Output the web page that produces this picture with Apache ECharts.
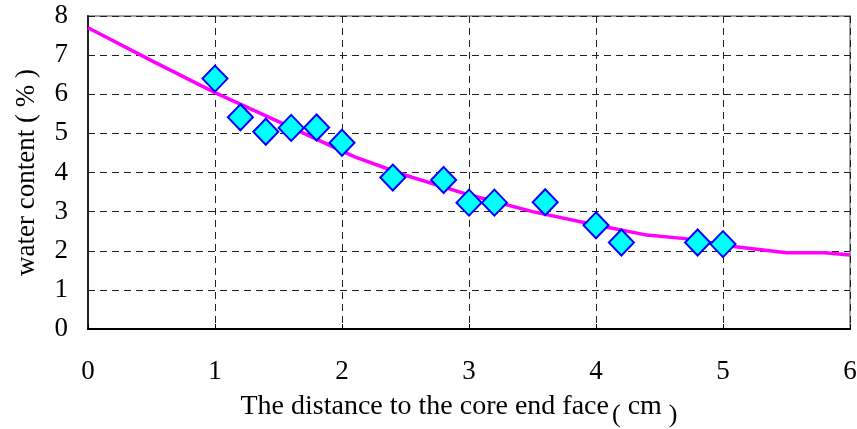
<!DOCTYPE html>
<html>
<head>
<meta charset="utf-8">
<script src="https://cdn.jsdelivr.net/npm/echarts@6/dist/echarts.min.js"></script>
<style>
html,body{margin:0;padding:0;background:#fff;}
#chart{width:857px;height:429px;}
</style>
</head>
<body>
<div id="chart"></div>
<script>
// Measured points (distance cm, water content %)
var measuredX = [1.0, 1.2, 1.4, 1.6, 1.8, 2.0, 2.4, 2.8, 3.0, 3.2, 3.6, 4.0, 4.2, 4.8, 5.0];
var measuredY = [6.40, 5.41, 5.04, 5.14, 5.15, 4.76, 3.87, 3.81, 3.23, 3.23, 3.24, 2.65, 2.21, 2.21, 2.17];
// Fitted curve
var curveX = [0, 0.5, 1.0, 1.5, 2.1, 2.5, 3.0, 3.5, 4.0, 4.4, 4.7, 5.1, 5.5, 5.8, 6.0];
var curveY = [7.70, 6.86, 6.04, 5.30, 4.40, 3.93, 3.43, 3.00, 2.66, 2.40, 2.31, 2.10, 1.95, 1.95, 1.89];
var xTicks = [0, 1, 2, 3, 4, 5, 6];
var yTicks = [0, 1, 2, 3, 4, 5, 6, 7, 8];

var FONT = '"Liberation Serif", "DejaVu Serif", serif';
var FS = 27;
var TFS = 28;
var chart = echarts.init(document.getElementById('chart'), null, {renderer: 'canvas'});
var scatterData = measuredX.map(function (x, i) { return [x, measuredY[i]]; });
var curveData = curveX.map(function (x, i) { return [x, curveY[i]]; });
var dashed = {show: true, lineStyle: {color: '#222', width: 1, type: [7, 5]}};

chart.setOption({
  animation: false,
  backgroundColor: '#fff',
  grid: {left: 88, right: 7, top: 16, bottom: 100, outerBoundsMode: 'none', containLabel: false,
    show: true, borderColor: '#a0a0a0', borderWidth: 2, backgroundColor: 'transparent'},
  xAxis: {
    type: 'value', min: xTicks[0], max: xTicks[xTicks.length - 1], interval: 1,
    name: 'The distance to the core end face{p|(} cm {q|)}',
    nameLocation: 'middle', nameGap: 57,
    nameTextStyle: {fontFamily: FONT, fontSize: TFS, color: '#000', padding: [0, 20, 0, 0],
      rich: {
        p: {fontFamily: FONT, fontSize: 26, color: '#000', padding: [16, 0, 0, 3]},
        q: {fontFamily: FONT, fontSize: 26, color: '#000', padding: [16, 0, 0, 0]}
      }},
    axisLine: {show: true, lineStyle: {color: '#000', width: 2}},
    axisTick: {show: true, inside: true, length: 5, lineStyle: {color: '#000', width: 1}},
    axisLabel: {fontFamily: FONT, fontSize: FS, color: '#000', margin: 29},
    splitLine: dashed
  },
  yAxis: {
    type: 'value', min: yTicks[0], max: yTicks[yTicks.length - 1], interval: 1,
    name: 'water content ( % )',
    nameLocation: 'middle', nameGap: 48, nameRotate: 90,
    nameTextStyle: {fontFamily: FONT, fontSize: FS, color: '#000'},
    axisLine: {show: true, lineStyle: {color: '#222', width: 2}},
    axisTick: {show: false},
    axisLabel: {fontFamily: FONT, fontSize: FS, color: '#000', margin: 20},
    splitLine: dashed
  },
  series: [
    {
      type: 'line', data: curveData, showSymbol: false, symbol: 'none', smooth: false,
      lineStyle: {color: '#ff00ff', width: 3.5}, z: 2
    },
    {
      type: 'scatter', data: scatterData, symbol: 'diamond', symbolSize: [25, 26],
      itemStyle: {color: '#00ffff', borderColor: '#0000ff', borderWidth: 2, opacity: 1}, z: 3
    }
  ]
});
</script>
</body>
</html>
